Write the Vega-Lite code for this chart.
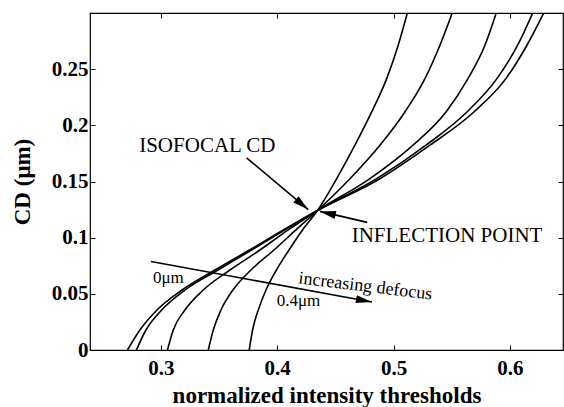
{
  "$schema": "https://vega.github.io/schema/vega-lite/v6.json",
  "width": 473,
  "height": 337,
  "autosize": {"type": "none"},
  "padding": {"left": 90, "top": 13, "right": 1, "bottom": 57},
  "background": "white",
  "config": {
    "view": {"stroke": "#000", "strokeWidth": 1.2},
    "axis": {
      "domain": false, "grid": false,
      "labelFont": "Liberation Serif", "labelFontWeight": "bold", "labelFontSize": 21, "labelColor": "#000",
      "titleFont": "Liberation Serif", "titleFontWeight": "bold", "titleFontSize": 23, "titleColor": "#000",
      "tickColor": "#000", "tickSize": -5, "tickWidth": 1
    }
  },
  "resolve": {"axis": {"x": "independent", "y": "independent"}},
  "layer": [
    {
      "data": {"values": [
        {"defocus": "0", "threshold": 0.2712, "cd": 0},
        {"defocus": "0", "threshold": 0.2819, "cd": 0.0178},
        {"defocus": "0", "threshold": 0.2966, "cd": 0.0356},
        {"defocus": "0", "threshold": 0.3181, "cd": 0.0534},
        {"defocus": "0", "threshold": 0.3464, "cd": 0.0712},
        {"defocus": "0", "threshold": 0.3761, "cd": 0.0890},
        {"defocus": "0", "threshold": 0.4052, "cd": 0.1069},
        {"defocus": "0", "threshold": 0.4346, "cd": 0.1242},
        {"defocus": "0", "threshold": 0.4883, "cd": 0.1525},
        {"defocus": "0", "threshold": 0.5313, "cd": 0.1823},
        {"defocus": "0", "threshold": 0.5691, "cd": 0.2119},
        {"defocus": "0", "threshold": 0.5966, "cd": 0.2416},
        {"defocus": "0", "threshold": 0.6147, "cd": 0.2713},
        {"defocus": "0", "threshold": 0.6296, "cd": 0.3010},
        {"defocus": "0.1", "threshold": 0.2789, "cd": 0},
        {"defocus": "0.1", "threshold": 0.2871, "cd": 0.0178},
        {"defocus": "0.1", "threshold": 0.3006, "cd": 0.0356},
        {"defocus": "0.1", "threshold": 0.3206, "cd": 0.0534},
        {"defocus": "0.1", "threshold": 0.3490, "cd": 0.0712},
        {"defocus": "0.1", "threshold": 0.3780, "cd": 0.0890},
        {"defocus": "0.1", "threshold": 0.4066, "cd": 0.1069},
        {"defocus": "0.1", "threshold": 0.4346, "cd": 0.1242},
        {"defocus": "0.1", "threshold": 0.4855, "cd": 0.1525},
        {"defocus": "0.1", "threshold": 0.5279, "cd": 0.1823},
        {"defocus": "0.1", "threshold": 0.5631, "cd": 0.2119},
        {"defocus": "0.1", "threshold": 0.5889, "cd": 0.2416},
        {"defocus": "0.1", "threshold": 0.6067, "cd": 0.2713},
        {"defocus": "0.1", "threshold": 0.6201, "cd": 0.3010},
        {"defocus": "0.2", "threshold": 0.3056, "cd": 0},
        {"defocus": "0.2", "threshold": 0.3106, "cd": 0.0178},
        {"defocus": "0.2", "threshold": 0.3206, "cd": 0.0356},
        {"defocus": "0.2", "threshold": 0.3364, "cd": 0.0534},
        {"defocus": "0.2", "threshold": 0.3593, "cd": 0.0712},
        {"defocus": "0.2", "threshold": 0.3851, "cd": 0.0890},
        {"defocus": "0.2", "threshold": 0.4095, "cd": 0.1069},
        {"defocus": "0.2", "threshold": 0.4346, "cd": 0.1242},
        {"defocus": "0.2", "threshold": 0.4797, "cd": 0.1525},
        {"defocus": "0.2", "threshold": 0.5167, "cd": 0.1823},
        {"defocus": "0.2", "threshold": 0.5451, "cd": 0.2119},
        {"defocus": "0.2", "threshold": 0.5640, "cd": 0.2416},
        {"defocus": "0.2", "threshold": 0.5786, "cd": 0.2713},
        {"defocus": "0.2", "threshold": 0.5886, "cd": 0.3010},
        {"defocus": "0.3", "threshold": 0.3407, "cd": 0},
        {"defocus": "0.3", "threshold": 0.3450, "cd": 0.0178},
        {"defocus": "0.3", "threshold": 0.3516, "cd": 0.0356},
        {"defocus": "0.3", "threshold": 0.3619, "cd": 0.0534},
        {"defocus": "0.3", "threshold": 0.3774, "cd": 0.0712},
        {"defocus": "0.3", "threshold": 0.3972, "cd": 0.0890},
        {"defocus": "0.3", "threshold": 0.4161, "cd": 0.1069},
        {"defocus": "0.3", "threshold": 0.4346, "cd": 0.1242},
        {"defocus": "0.3", "threshold": 0.4625, "cd": 0.1525},
        {"defocus": "0.3", "threshold": 0.4883, "cd": 0.1823},
        {"defocus": "0.3", "threshold": 0.5098, "cd": 0.2119},
        {"defocus": "0.3", "threshold": 0.5270, "cd": 0.2416},
        {"defocus": "0.3", "threshold": 0.5399, "cd": 0.2713},
        {"defocus": "0.3", "threshold": 0.5508, "cd": 0.3010},
        {"defocus": "0.4", "threshold": 0.3759, "cd": 0},
        {"defocus": "0.4", "threshold": 0.3788, "cd": 0.0178},
        {"defocus": "0.4", "threshold": 0.3837, "cd": 0.0356},
        {"defocus": "0.4", "threshold": 0.3903, "cd": 0.0534},
        {"defocus": "0.4", "threshold": 0.3993, "cd": 0.0712},
        {"defocus": "0.4", "threshold": 0.4101, "cd": 0.0890},
        {"defocus": "0.4", "threshold": 0.4217, "cd": 0.1069},
        {"defocus": "0.4", "threshold": 0.4346, "cd": 0.1242},
        {"defocus": "0.4", "threshold": 0.4511, "cd": 0.1525},
        {"defocus": "0.4", "threshold": 0.4668, "cd": 0.1823},
        {"defocus": "0.4", "threshold": 0.4812, "cd": 0.2119},
        {"defocus": "0.4", "threshold": 0.4941, "cd": 0.2416},
        {"defocus": "0.4", "threshold": 0.5040, "cd": 0.2713},
        {"defocus": "0.4", "threshold": 0.5121, "cd": 0.3010}
      ]},
      "mark": {"type": "line", "color": "#000", "strokeWidth": 1.6, "clip": true, "interpolate": "monotone"},
      "encoding": {
        "x": {"field": "threshold", "type": "quantitative",
          "scale": {"domain": [0.239, 0.6457], "nice": false, "zero": false},
          "axis": {"orient": "bottom", "values": [0.3, 0.4, 0.5, 0.6], "format": "~g", "labelPadding": 12,
            "title": "normalized intensity thresholds", "titleY": 52, "titleBaseline": "alphabetic"}},
        "y": {"field": "cd", "type": "quantitative",
          "scale": {"domain": [0, 0.3], "nice": false},
          "axis": {"orient": "left", "values": [0, 0.05, 0.1, 0.15, 0.2, 0.25], "format": "~g", "labelPadding": 7,
            "title": "CD (μm)", "titleX": -68, "titleY": 168.5, "titleBaseline": "middle"}},
        "detail": {"field": "defocus"}
      }
    },
    {
      "data": {"values": [
        {"arrow": "isofocal", "x1": 0.3737, "y1": 0.1710, "x2": 0.4267, "y2": 0.1249},
        {"arrow": "inflection", "x1": 0.4774, "y1": 0.1136, "x2": 0.4367, "y2": 0.1234},
        {"arrow": "defocus", "x1": 0.2914, "y1": 0.0788, "x2": 0.4814, "y2": 0.0428}
      ]},
      "mark": {"type": "rule", "color": "#000", "strokeWidth": 1.6},
      "encoding": {
        "x": {"field": "x1", "type": "quantitative",
          "scale": {"domain": [0.239, 0.6457], "nice": false, "zero": false},
          "axis": {"orient": "top", "values": [0.3, 0.4, 0.5, 0.6], "labels": false, "title": null}},
        "y": {"field": "y1", "type": "quantitative",
          "scale": {"domain": [0, 0.3], "nice": false},
          "axis": {"orient": "right", "values": [0, 0.05, 0.1, 0.15, 0.2, 0.25], "labels": false, "title": null}},
        "x2": {"field": "x2"},
        "y2": {"field": "y2"}
      }
    },
    {
      "data": {"values": [{"x": 0.4267, "y": 0.1249}]},
      "mark": {"type": "point", "shape": "M0,0L1,4L-1,4Z", "size": 64, "filled": true, "color": "#000", "opacity": 1, "angle": 130},
      "encoding": {
        "x": {"field": "x", "type": "quantitative", "axis": null},
        "y": {"field": "y", "type": "quantitative", "axis": null}
      }
    },
    {
      "data": {"values": [{"x": 0.4367, "y": 0.1234}]},
      "mark": {"type": "point", "shape": "M0,0L1,4L-1,4Z", "size": 64, "filled": true, "color": "#000", "opacity": 1, "angle": 283},
      "encoding": {
        "x": {"field": "x", "type": "quantitative", "axis": null},
        "y": {"field": "y", "type": "quantitative", "axis": null}
      }
    },
    {
      "data": {"values": [{"x": 0.4814, "y": 0.0428}]},
      "mark": {"type": "point", "shape": "M0,0L1,4L-1,4Z", "size": 64, "filled": true, "color": "#000", "opacity": 1, "angle": 100},
      "encoding": {
        "x": {"field": "x", "type": "quantitative", "axis": null},
        "y": {"field": "y", "type": "quantitative", "axis": null}
      }
    },
    {
      "data": {"values": [
        {"label": "ISOFOCAL CD", "x": 0.2813, "y": 0.1814},
        {"label": "INFLECTION POINT", "x": 0.4640, "y": 0.1011}
      ]},
      "mark": {"type": "text", "font": "Liberation Serif", "fontSize": 21, "align": "left", "baseline": "middle", "color": "#000"},
      "encoding": {
        "x": {"field": "x", "type": "quantitative", "axis": null},
        "y": {"field": "y", "type": "quantitative", "axis": null},
        "text": {"field": "label"}
      }
    },
    {
      "data": {"values": [
        {"label": "0μm", "x": 0.2931, "y": 0.0642},
        {"label": "0.4μm", "x": 0.3995, "y": 0.0437}
      ]},
      "mark": {"type": "text", "font": "Liberation Serif", "fontSize": 17, "align": "left", "baseline": "middle", "color": "#000"},
      "encoding": {
        "x": {"field": "x", "type": "quantitative", "axis": null},
        "y": {"field": "y", "type": "quantitative", "axis": null},
        "text": {"field": "label"}
      }
    },
    {
      "data": {"values": [
        {"label": "increasing defocus", "x": 0.4758, "y": 0.0565}
      ]},
      "mark": {"type": "text", "font": "Liberation Serif", "fontSize": 18, "align": "center", "baseline": "middle", "angle": 7, "color": "#000"},
      "encoding": {
        "x": {"field": "x", "type": "quantitative", "axis": null},
        "y": {"field": "y", "type": "quantitative", "axis": null},
        "text": {"field": "label"}
      }
    }
  ]
}
